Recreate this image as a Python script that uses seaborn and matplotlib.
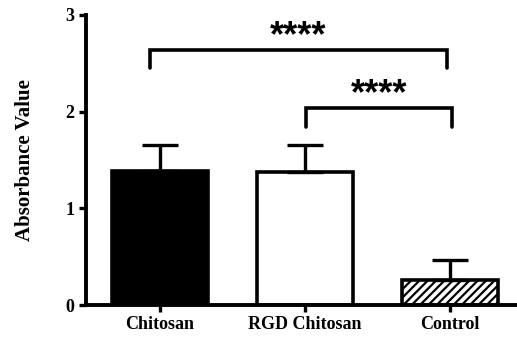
import matplotlib
matplotlib.use("Agg")
import matplotlib.pyplot as plt
import seaborn as sns
import pandas as pd

categories = ["Chitosan", "RGD Chitosan", "Control"]
means = [1.39, 1.38, 0.26]
sd = [0.27, 0.28, 0.21]
colors = ["black", "white", "white"]
hatches = ["", "", "////"]
y_ticks = [0, 1, 2, 3]

sns.set_theme(style="ticks")
plt.rcParams["font.family"] = ["Liberation Serif", "DejaVu Serif"]
plt.rcParams["font.weight"] = "bold"
plt.rcParams["hatch.linewidth"] = 1.6
plt.rcParams["text.color"] = "black"
plt.rcParams["axes.labelcolor"] = "black"

df = pd.DataFrame({"group": categories, "value": means})

fig = plt.figure(figsize=(5.17, 3.39), dpi=100)
ax = fig.add_axes([0.166, 0.100, 0.834, 0.856])

sns.barplot(data=df, x="group", y="value", hue="group", palette=colors,
            edgecolor="black", linewidth=2.6, width=0.66, legend=False,
            errorbar=None, ax=ax, dodge=False)
for patch, h in zip(ax.patches, hatches):
    patch.set_hatch(h)

ax.errorbar(range(len(categories)), means, yerr=[[0]*len(sd), sd], fmt="none",
            ecolor="black", elinewidth=2.4, capsize=13, capthick=2.4, zorder=1)

ax.set_ylim(0, 3)
ax.set_xlim(-0.51, 2.46)
ax.set_yticks(y_ticks)
ax.set_ylabel("Absorbance Value", fontsize=15, fontweight="bold", labelpad=22,
              color="black")
ax.set_xlabel("")
ax.tick_params(axis="both", width=2.4, length=5, labelsize=13, pad=3, colors="black")
for lbl in ax.get_xticklabels() + ax.get_yticklabels():
    lbl.set_fontweight("bold")
sns.despine(ax=ax)
for s in ["left", "bottom"]:
    ax.spines[s].set_linewidth(2.8)
    ax.spines[s].set_color("black")

def bracket(x1, x2, y, h, text, ty):
    ax.plot([x1, x1, x2, x2], [y - h, y, y, y - h], color="black", lw=2.6,
            solid_capstyle="round", solid_joinstyle="miter", clip_on=False)
    ax.text((x1 + x2) / 2, ty, text, ha="center", va="center", fontsize=26,
            fontweight="bold", family=["Liberation Sans", "DejaVu Sans"],
            color="black", clip_on=False)

bracket(-0.07, 1.98, 2.64, 0.19, "****", 2.78)
bracket(1.01, 2.01, 2.04, 0.20, "****", 2.18)

fig.savefig("out.png", dpi=100)
